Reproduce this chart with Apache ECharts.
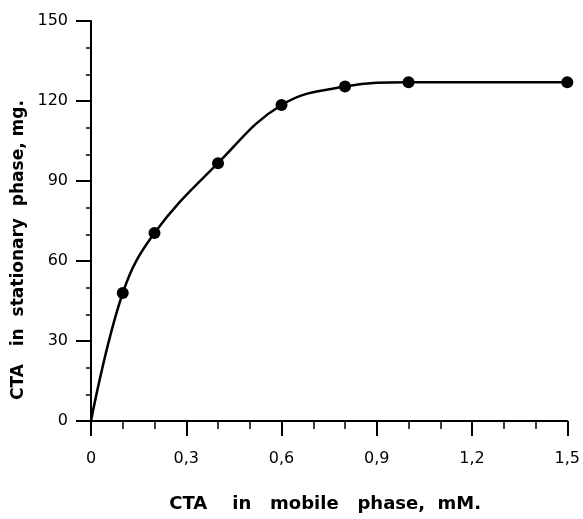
<!DOCTYPE html>
<html>
<head>
    <meta charset="utf-8">
    <title>CTA</title>
    <script src="https://cdn.jsdelivr.net/npm/echarts@6/dist/echarts.min.js"></script>
    <style>
        html, body { margin: 0; padding: 0; background: #fff; }
        #chart { width: 583px; height: 519px; }
    </style>
</head>
<body>
    <div id="chart"></div>
    <script>
        var mobile = [0.1, 0.2, 0.4, 0.6, 0.8, 1.0, 1.5];
        var stationary = [48, 70.5, 96.7, 118.5, 125.4, 127, 127];
        // the drawn curve starts at the origin
        var curveStart = [0, 0];

        var xTicks = [0, 0.3, 0.6, 0.9, 1.2, 1.5];
        var yTicks = [0, 30, 60, 90, 120, 150];

        var points = mobile.map(function (x, i) { return [x, stationary[i]]; });
        var curve = [curveStart].concat(points);

        var font = 'DejaVu Sans, sans-serif';
        var chart = echarts.init(document.getElementById('chart'));

        chart.setOption({
            animation: false,
            backgroundColor: '#fff',
            grid: { left: 91, right: 14, top: 21, bottom: 98 },
            xAxis: {
                type: 'value',
                min: xTicks[0],
                max: xTicks[xTicks.length - 1],
                interval: 0.3,
                name: 'CTA    in   mobile   phase,  mM.',
                nameLocation: 'middle',
                nameGap: 74,
                nameTextStyle: { fontFamily: font, fontSize: 18, fontWeight: 'bold', color: '#000', padding: [0, 8, 0, 0] },
                axisLine: { lineStyle: { color: '#000', width: 2 } },
                axisTick: { show: true, length: 15, inside: false, lineStyle: { color: '#000', width: 2 } },
                minorTick: { show: true, splitNumber: 3, length: 8, lineStyle: { color: '#000', width: 1.5 } },
                splitLine: { show: false },
                axisLabel: {
                    margin: 30, fontFamily: font, fontSize: 16, color: '#000',
                    formatter: function (v) { return String(+v.toFixed(1)).replace('.', ','); }
                }
            },
            yAxis: {
                type: 'value',
                min: yTicks[0],
                max: yTicks[yTicks.length - 1],
                interval: 30,
                axisLine: { show: true, lineStyle: { color: '#000', width: 2 } },
                axisTick: { show: true, length: 15, inside: false, lineStyle: { color: '#000', width: 2 } },
                minorTick: { show: true, splitNumber: 3, length: 5, lineStyle: { color: '#000', width: 1.5 } },
                splitLine: { show: false },
                axisLabel: { margin: 23, fontFamily: font, fontSize: 16, color: '#000' }
            },
            graphic: [{
                type: 'text',
                x: 19,
                y: 250,
                rotation: Math.PI / 2,
                style: {
                    text: 'CTA   in  stationary  phase, mg.',
                    fontFamily: font, fontSize: 17, fontWeight: 'bold', fill: '#000',
                    align: 'center', verticalAlign: 'middle'
                }
            }],
            series: [{
                type: 'line',
                data: curve,
                smooth: 0.4,
                showSymbol: false,
                lineStyle: { color: '#000', width: 2.5 }
            }, {
                type: 'scatter',
                data: points,
                symbol: 'circle',
                symbolSize: 12,
                itemStyle: { color: '#000', opacity: 1 }
            }]
        });
    </script>
</body>
</html>
